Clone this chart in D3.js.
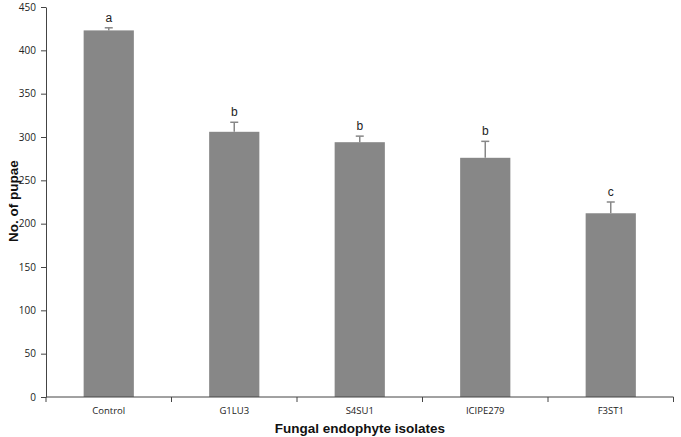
<!DOCTYPE html>
<html><head><meta charset="utf-8">
<script src="https://cdn.jsdelivr.net/npm/d3@7"></script>
<style>body{margin:0;background:#fff}</style>
</head><body>
<script>
const categories = ["Control","G1LU3","S4SU1","ICIPE279","F3ST1"];
const values = [423, 306, 294, 276, 212];
const errors = [3, 11, 7, 19, 13];
const letters = ["a","b","b","b","c"];
const yTicks = [0,50,100,150,200,250,300,350,400,450];

const W=681,H=437;
const m={left:46,right:8,top:7,bottom:40};
const svg=d3.select("body").append("svg").attr("width",W).attr("height",H);
const x=d3.scaleBand().domain(categories).range([m.left,673.5]).paddingInner(0.6).paddingOuter(0.3);
const y=d3.scaleLinear().domain([0,450]).range([397,7]);

const g=svg.append("g");
g.selectAll("rect.bar").data(values).join("rect")
 .attr("x",(d,i)=>x(categories[i])).attr("y",d=>y(d))
 .attr("width",x.bandwidth()).attr("height",d=>y(0)-y(d)).attr("fill","#878787");
values.forEach((v,i)=>{
  const cx=x(categories[i])+x.bandwidth()/2;
  g.append("line").attr("x1",cx).attr("x2",cx).attr("y1",y(v)).attr("y2",y(v+errors[i])).attr("stroke","#878787").attr("stroke-width",1.5);
  g.append("line").attr("x1",cx-4).attr("x2",cx+4).attr("y1",y(v+errors[i])).attr("y2",y(v+errors[i])).attr("stroke","#878787").attr("stroke-width",1.5);
  g.append("text").attr("x",cx).attr("y",y(v+errors[i])-6).attr("text-anchor","middle")
   .attr("font-family","Liberation Sans, Arial").attr("font-size",12).attr("fill","#222").text(letters[i]);
});

const ya=svg.append("g").attr("transform",`translate(${m.left},0)`)
 .call(d3.axisLeft(y).tickValues(yTicks).tickSize(5).tickSizeOuter(0));
ya.select(".domain").attr("stroke","#444");
ya.selectAll(".tick line").attr("stroke","#444");
ya.selectAll("text").attr("font-family","Open Sans, sans-serif").attr("font-size",10).attr("fill","#222").attr("dx","-2");

const xa=svg.append("g").attr("transform",`translate(0,${y(0)})`);
xa.append("line").attr("x1",m.left).attr("x2",673.5).attr("stroke","#444");
const bounds=[m.left, ...categories.map(c=>x(c)-x.step()*x.paddingInner()/2+x.step())];
bounds.forEach(b=>xa.append("line").attr("x1",b).attr("x2",b).attr("y1",0).attr("y2",5).attr("stroke","#444"));
categories.forEach(c=>xa.append("text").attr("x",x(c)+x.bandwidth()/2).attr("y",17).attr("text-anchor","middle")
 .attr("font-family","Open Sans, sans-serif").attr("font-size",9.5).attr("fill","#222").text(c));

svg.append("text").attr("x",360).attr("y",433).attr("text-anchor","middle")
 .attr("font-family","Liberation Sans, Arial").attr("font-weight","bold").attr("font-size",13.5).attr("fill","#111").text("Fungal endophyte isolates");
svg.append("text").attr("transform","translate(18,201) rotate(-90)").attr("text-anchor","middle")
 .attr("font-family","Liberation Sans, Arial").attr("font-weight","bold").attr("font-size",13.5).attr("fill","#111").text("No. of pupae");
</script>
</body></html>
